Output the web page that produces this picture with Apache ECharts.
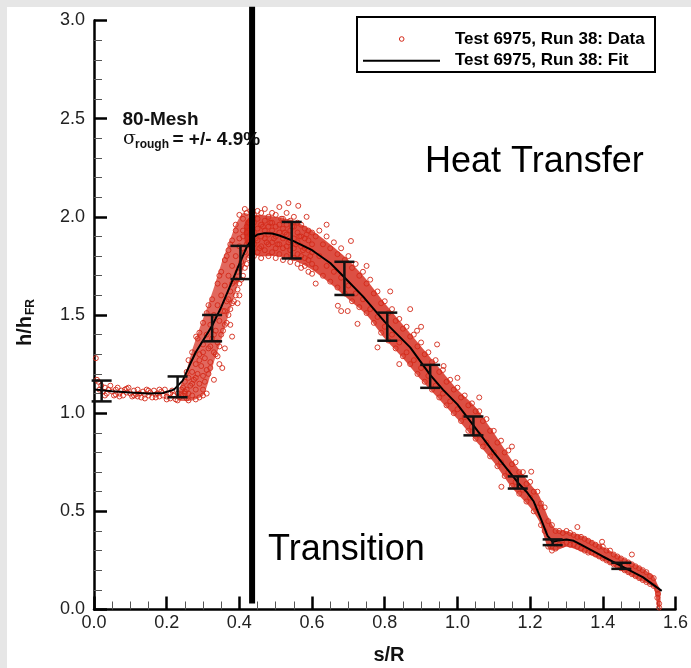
<!DOCTYPE html>
<html><head><meta charset="utf-8">
<script src="https://cdn.jsdelivr.net/npm/echarts@6/dist/echarts.min.js"></script>
<style>html,body{margin:0;padding:0;background:#e6e6e6;}#c{width:691px;height:668px;}</style>
</head><body><div id="c"></div>
<script>
// ---- tick labels ----
const xTicks = [0.0,0.2,0.4,0.6,0.8,1.0,1.2,1.4,1.6];
const yTicks = [0.0,0.5,1.0,1.5,2.0,2.5,3.0];
// ---- fit curve ----
const fitX = [0.00,0.05,0.10,0.15,0.19,0.22,0.244,0.262,0.28,0.30,0.325,0.35,0.375,0.40,0.42,0.435,0.45,0.47,0.49,0.51,0.545,0.60,0.65,0.69,0.74,0.80,0.87,0.925,0.96,1.00,1.045,1.10,1.166,1.19,1.21,1.23,1.248,1.262,1.28,1.30,1.32,1.34,1.40,1.45,1.51,1.562];
const fitY = [1.12,1.112,1.105,1.10,1.103,1.12,1.166,1.24,1.31,1.37,1.445,1.54,1.65,1.76,1.845,1.89,1.91,1.917,1.915,1.905,1.88,1.83,1.765,1.69,1.595,1.465,1.335,1.195,1.12,1.045,0.935,0.80,0.647,0.60,0.55,0.46,0.375,0.345,0.352,0.357,0.35,0.33,0.27,0.222,0.165,0.095];
// ---- error bars ----
const errX  = [0.021,0.23,0.325,0.403,0.544,0.689,0.807,0.925,1.044,1.166,1.262,1.451];
const errLo = [1.06,1.081,1.366,1.683,1.788,1.602,1.369,1.129,0.887,0.616,0.328,0.207];
const errHi = [1.166,1.187,1.50,1.852,1.974,1.771,1.512,1.246,0.983,0.678,0.357,0.238];
// ---- dense data band envelope (peak + decline) ----
const bandX  = [0.415,0.43,0.45,0.50,0.55,0.60,0.65,0.70,0.75,0.80,0.85,0.90,0.95,1.00,1.05,1.10,1.15,1.20,1.225,1.25,1.27,1.30,1.35,1.40,1.45,1.50,1.54,1.55,1.558];
const bandLo = [1.87,1.83,1.80,1.80,1.78,1.73,1.66,1.58,1.50,1.38,1.28,1.17,1.07,0.97,0.86,0.75,0.62,0.52,0.45,0.31,0.30,0.32,0.29,0.25,0.20,0.15,0.11,0.02,0.00];
const bandHi = [1.97,2.00,2.01,2.00,1.98,1.93,1.86,1.78,1.68,1.56,1.45,1.34,1.23,1.12,1.03,0.90,0.76,0.64,0.58,0.47,0.41,0.40,0.37,0.32,0.27,0.22,0.17,0.13,0.10];
// ---- rising data cloud outline (polygon vertices) ----
const riseX = [0.235,0.27,0.30,0.315,0.33,0.35,0.37,0.39,0.41,0.425,0.435,0.435,0.41,0.39,0.37,0.35,0.33,0.31,0.29,0.27,0.255,0.24,0.235];
const riseY = [1.065,1.065,1.09,1.16,1.26,1.37,1.50,1.62,1.73,1.80,1.84,2.00,2.02,1.96,1.86,1.76,1.64,1.53,1.43,1.32,1.22,1.15,1.12];
// ---- scatter data (x,y pairs) ----
const dataFlat = [0.005,1.28,0.008,1.17,0.012,1.16,0.015,1.12,0.02,1.14,0.025,1.11,0.03,1.13,0.03,1.09,0.035,1.10,0.04,1.12,0.045,1.14,0.05,1.11,0.055,1.09,0.06,1.12,0.06,1.095,0.065,1.13,0.07,1.10,0.075,1.115,0.08,1.09,0.085,1.12,0.09,1.105,0.09,1.125,0.095,1.13,0.10,1.10,0.105,1.085,0.11,1.115,0.115,1.095,0.12,1.12,0.12,1.085,0.125,1.10,0.13,1.08,0.135,1.11,0.14,1.095,0.145,1.12,0.15,1.09,0.15,1.115,0.155,1.105,0.16,1.08,0.165,1.115,0.17,1.095,0.175,1.10,0.18,1.085,0.18,1.12,0.185,1.11,0.19,1.09,0.195,1.12,0.20,1.085,0.205,1.10,0.21,1.075,0.21,1.10,0.215,1.115,0.22,1.09,0.225,1.07,0.23,1.10,0.235,1.08,0.24,1.12,0.24,1.095,0.245,1.09,0.25,1.11,0.255,1.075,0.07,1.085,0.11,1.09,0.14,1.075,0.17,1.08,0.2,1.07,0.23,1.065,0.26,1.065];
const dataRise = [0.245,1.13,0.25,1.16,0.255,1.12,0.26,1.18,0.26,1.10,0.265,1.14,0.27,1.21,0.27,1.09,0.275,1.17,0.28,1.25,0.28,1.12,0.285,1.20,0.29,1.30,0.29,1.15,0.295,1.24,0.30,1.35,0.30,1.19,0.305,1.28,0.31,1.40,0.31,1.10,0.315,1.33,0.32,1.45,0.32,1.26,0.325,1.38,0.33,1.50,0.33,1.31,0.335,1.42,0.34,1.55,0.34,1.36,0.345,1.47,0.35,1.60,0.35,1.40,0.355,1.52,0.36,1.65,0.36,1.45,0.365,1.57,0.37,1.70,0.37,1.50,0.375,1.62,0.38,1.75,0.38,1.56,0.385,1.67,0.39,1.80,0.39,1.60,0.395,1.72,0.40,1.85,0.40,1.66,0.405,1.77,0.41,1.90,0.41,1.70,0.415,1.82,0.42,1.95,0.42,1.76,0.425,1.87,0.43,1.98,0.43,1.80,0.435,1.92,0.353,1.23,0.33,1.17,0.375,1.45,0.38,1.39,0.281,1.39,0.29,1.27,0.31,1.22,0.32,1.34,0.34,1.29,0.36,1.52,0.38,1.66,0.40,1.74,0.42,1.86,0.30,1.31,0.27,1.15,0.28,1.18,0.25,1.10,0.33,1.40,0.37,1.58,0.39,1.68,0.41,1.84,0.43,1.91,0.39,1.96,0.40,2.01,0.41,1.99,0.415,2.04,0.42,2.02,0.425,1.97,0.43,2.03,0.42,1.92,0.41,1.93,0.40,1.89,0.30,1.12,0.305,1.16,0.315,1.20,0.32,1.23,0.335,1.30,0.345,1.34,0.355,1.42,0.365,1.46,0.375,1.53,0.385,1.57,0.395,1.63,0.405,1.68,0.415,1.74,0.425,1.79,0.30,1.09,0.29,1.08,0.28,1.07,0.395,1.56,0.36,1.33,0.345,1.25,0.40,1.60,0.26,1.27,0.27,1.31,0.285,1.38,0.30,1.46,0.31,1.51,0.325,1.58,0.34,1.66,0.35,1.72,0.36,1.78,0.37,1.83,0.38,1.88,0.39,1.93,0.255,1.21,0.29,1.41,0.315,1.55,0.345,1.70,0.365,1.80,0.375,1.86];
const dataPeak = [0.44,1.80,0.44,1.86,0.44,1.92,0.44,1.97,0.44,2.01,0.45,1.82,0.45,1.88,0.45,1.94,0.45,1.99,0.45,2.03,0.46,1.79,0.46,1.85,0.46,1.90,0.46,1.96,0.46,2.02,0.47,1.83,0.47,1.89,0.47,1.93,0.47,1.98,0.47,2.04,0.48,1.80,0.48,1.86,0.48,1.91,0.48,1.95,0.48,2.00,0.49,1.82,0.49,1.87,0.49,1.93,0.49,1.97,0.49,2.02,0.50,1.79,0.50,1.84,0.50,1.90,0.50,1.95,0.50,2.01,0.51,1.81,0.51,1.86,0.51,1.92,0.51,1.96,0.51,2.05,0.52,1.78,0.52,1.84,0.52,1.89,0.52,1.94,0.52,1.99,0.53,1.80,0.53,1.85,0.53,1.91,0.53,1.96,0.53,2.02,0.54,1.77,0.54,1.83,0.54,1.88,0.54,1.93,0.54,1.98,0.55,1.79,0.55,1.84,0.55,1.89,0.55,1.95,0.55,2.00,0.56,1.76,0.56,1.81,0.56,1.87,0.56,1.92,0.56,1.97,0.57,1.74,0.57,1.80,0.57,1.85,0.57,1.90,0.57,1.96,0.58,1.75,0.58,1.79,0.58,1.84,0.58,1.89,0.58,1.94,0.59,1.72,0.59,1.78,0.59,1.83,0.59,1.88,0.59,1.93,0.60,1.71,0.60,1.76,0.60,1.82,0.60,1.86,0.60,1.92,0.445,1.89,0.455,1.84,0.465,1.95,0.475,1.87,0.485,1.97,0.495,1.89,0.505,1.86,0.515,1.99,0.525,1.92,0.535,1.87,0.545,1.95,0.555,1.86,0.565,1.90,0.575,1.83,0.585,1.91,0.595,1.80];
const dataDecline = [0.61,1.74,0.61,1.90,0.62,1.80,0.62,1.93,0.63,1.70,0.63,1.86,0.64,1.75,0.64,1.90,0.65,1.67,0.65,1.84,0.66,1.72,0.66,1.87,0.67,1.64,0.67,1.81,0.68,1.69,0.68,1.84,0.69,1.61,0.69,1.78,0.70,1.65,0.70,1.80,0.71,1.57,0.71,1.74,0.72,1.61,0.72,1.76,0.73,1.54,0.73,1.70,0.74,1.58,0.74,1.72,0.75,1.51,0.75,1.66,0.76,1.53,0.76,1.68,0.77,1.46,0.77,1.61,0.78,1.49,0.78,1.62,0.79,1.41,0.79,1.56,0.80,1.44,0.80,1.57,0.81,1.37,0.81,1.51,0.82,1.40,0.82,1.53,0.83,1.33,0.83,1.47,0.84,1.36,0.84,1.48,0.85,1.29,0.85,1.43,0.86,1.31,0.86,1.44,0.87,1.25,0.87,1.39,0.88,1.27,0.88,1.40,0.89,1.20,0.89,1.34,0.90,1.23,0.90,1.36,0.91,1.16,0.91,1.30,0.92,1.19,0.92,1.31,0.93,1.12,0.93,1.26,0.94,1.14,0.94,1.27,0.95,1.08,0.95,1.21,0.96,1.10,0.96,1.22,0.97,1.04,0.97,1.16,0.98,1.06,0.98,1.17,0.99,1.00,0.99,1.12,1.00,1.02,1.00,1.13,1.01,0.96,1.01,1.08,1.02,0.98,1.02,1.09,1.03,0.91,1.03,1.04,1.04,0.93,1.04,1.05,1.05,0.87,1.05,1.01,1.06,0.89,1.06,1.01,1.07,0.83,1.07,0.96,1.08,0.85,1.08,0.97,1.09,0.78,1.09,0.91,1.10,0.80,1.10,0.91,1.11,0.73,1.11,0.85,1.12,0.75,1.12,0.86,1.13,0.68,1.13,0.80,1.14,0.70,1.14,0.81,1.15,0.63,1.15,0.74,1.16,0.65,1.16,0.75,1.17,0.59,1.17,0.70,1.18,0.61,1.18,0.70,1.19,0.55,1.19,0.64,1.20,0.57,1.20,0.65,1.21,0.50,1.21,0.60,1.22,0.52,1.22,0.60,1.23,0.43,1.23,0.54,1.24,0.40,1.24,0.52,1.25,0.32,1.25,0.45,1.26,0.30,1.26,0.43,1.27,0.31,1.27,0.40,1.28,0.33,1.28,0.40,1.29,0.33,1.29,0.39,1.30,0.34,1.30,0.40,1.31,0.33,1.31,0.39,1.32,0.33,1.32,0.38,1.33,0.32,1.33,0.37,1.34,0.31,1.34,0.37,1.35,0.30,1.35,0.36,1.36,0.29,1.36,0.35,1.37,0.29,1.37,0.34,1.38,0.28,1.38,0.33,1.39,0.27,1.39,0.32,1.40,0.26,1.40,0.32,1.41,0.25,1.41,0.30,1.42,0.24,1.42,0.30,1.43,0.23,1.43,0.28,1.44,0.22,1.44,0.27,1.45,0.21,1.45,0.26,1.46,0.20,1.46,0.25,1.47,0.19,1.47,0.24,1.48,0.18,1.48,0.23,1.49,0.17,1.49,0.22,1.50,0.16,1.50,0.21,1.51,0.15,1.51,0.20,1.52,0.14,1.52,0.19,1.53,0.13,1.53,0.17,1.54,0.12,1.54,0.16,1.55,0.10,1.55,0.06,1.555,0.03,1.555,0.01,1.552,0.08];
const dataOutliers = [0.535,2.07,0.562,2.056,0.707,1.877,0.68,1.52,0.698,1.52,0.78,1.335,0.815,1.62,0.87,1.53,0.889,1.42,0.944,1.35,0.962,1.24,0.725,1.455,0.671,1.547,1.121,0.625,1.203,0.702,1.398,0.345,0.64,1.96,0.75,1.75,0.90,1.44,1.00,1.18,1.06,1.08,1.15,0.83,0.585,2.00,0.61,1.66,0.84,1.25,1.33,0.42,1.48,0.28];
// ---- transition line ----
const transX = [0.435,0.435];
const transY = [0.03,3.07];

const FONT = '"Liberation Sans", Arial, Helvetica, sans-serif';
function pairs(a){const o=[];for(let i=0;i<a.length;i+=2)o.push([a[i],a[i+1]]);return o;}
const scatterData = [].concat(pairs(dataFlat),pairs(dataRise),pairs(dataPeak),pairs(dataDecline),pairs(dataOutliers));
const fitData = fitX.map((x,i)=>[x,fitY[i]]);
const errData = errX.map((x,i)=>[x,errLo[i],errHi[i]]);
const transData = transX.map((x,i)=>[x,transY[i]]);
const RED = '#d42a1a';

const chart = echarts.init(document.getElementById('c'), null, {renderer:'canvas'});
const axisCommon = {
  axisLine:{show:true,onZero:false,lineStyle:{color:'#000',width:2.5}},
  axisTick:{show:true,inside:true,length:13,lineStyle:{color:'#000',width:2.5}},
  splitLine:{show:false}, minorSplitLine:{show:false}
};
chart.setOption({
  backgroundColor:'#e6e6e6',
  animation:false,
  grid:{left:94,right:10.3,top:20.5,bottom:58.5,containLabel:false},
  xAxis:Object.assign({type:'value',min:xTicks[0],max:xTicks[xTicks.length-1],interval:0.2,
    axisLabel:{fontSize:18,color:'#222',fontFamily:FONT,margin:5,formatter:v=>v.toFixed(1)}},axisCommon,
    {minorTick:{show:true,splitNumber:4,length:8,lineStyle:{color:'#555',width:1}}}),
  yAxis:Object.assign({type:'value',min:yTicks[0],max:yTicks[yTicks.length-1],interval:0.5,
    axisLabel:{fontSize:18,color:'#222',fontFamily:FONT,margin:9,formatter:v=>v.toFixed(1)}},axisCommon,
    {minorTick:{show:true,splitNumber:5,length:8,lineStyle:{color:'#555',width:1}}}),
  graphic:[
    {type:'rect',z:-100,silent:true,shape:{x:7,y:7,width:684,height:661},style:{fill:'#fff'}},
    {type:'rect',z:100,shape:{x:357,y:17,width:298,height:55},style:{fill:'#fff',stroke:'#000',lineWidth:2}},
    {type:'circle',z:101,shape:{cx:401.7,cy:39,r:2.3},style:{fill:'none',stroke:RED,lineWidth:1}},
    {type:'line',z:101,shape:{x1:363,y1:60.7,x2:440,y2:60.7},style:{stroke:'#000',lineWidth:2}},
    {type:'text',z:101,x:455,y:39,style:{text:'Test 6975, Run 38: Data',font:'bold 17px '+FONT,fill:'#000',verticalAlign:'middle'}},
    {type:'text',z:101,x:455,y:60.5,style:{text:'Test 6975, Run 38: Fit',font:'bold 17px '+FONT,fill:'#000',verticalAlign:'middle'}},
    {type:'text',z:101,x:122.5,y:119.5,style:{text:'80-Mesh',font:'bold 19px '+FONT,fill:'#111',verticalAlign:'middle'}},
    {type:'text',z:101,x:123,y:139,style:{text:'σ',font:'19px "DejaVu Serif", serif',fill:'#111',verticalAlign:'middle'}},
    {type:'text',z:101,x:135,y:145,style:{text:'rough',font:'bold 12px '+FONT,fill:'#111',verticalAlign:'middle'}},
    {type:'text',z:101,x:172.5,y:140,style:{text:'= +/- 4.9%',font:'bold 19px '+FONT,fill:'#111',verticalAlign:'middle'}},
    {type:'text',z:101,x:425,y:162,style:{text:'Heat Transfer',font:'36px '+FONT,fill:'#000',verticalAlign:'middle'}},
    {type:'text',z:101,x:268,y:550,style:{text:'Transition',font:'36px '+FONT,fill:'#000',verticalAlign:'middle'}},
    {type:'text',z:101,x:389,y:655,style:{text:'s/R',font:'bold 20px '+FONT,fill:'#111',align:'center',verticalAlign:'middle'}},
    {type:'group',z:101,x:25,y:346,rotation:Math.PI/2,children:[
      {type:'text',x:0,y:0,style:{text:'h/h',font:'bold 20px '+FONT,fill:'#111',verticalAlign:'middle'}},
      {type:'text',x:31,y:6,style:{text:'FR',font:'bold 12px '+FONT,fill:'#111',verticalAlign:'middle'}}
    ]}
  ],
  series:[
    {type:'custom',z:1,silent:true,data:[0],
      renderItem:function(params,api){
        const pts=[];
        for(let i=0;i<bandX.length;i++)pts.push(api.coord([bandX[i],bandHi[i]]));
        for(let i=bandX.length-1;i>=0;i--)pts.push(api.coord([bandX[i],bandLo[i]]));
        const rp=riseX.map((x,i)=>api.coord([x,riseY[i]]));
        return {type:'group',children:[
          {type:'polygon',shape:{points:pts,smooth:0.2},style:{fill:'rgba(212,40,26,0.82)'}},
          {type:'polygon',shape:{points:rp,smooth:0.2},style:{fill:'rgba(212,40,26,0.7)'}}
        ]};
      }},
    {type:'scatter',z:2,silent:true,data:scatterData,symbol:'circle',symbolSize:5,
      itemStyle:{color:'rgba(0,0,0,0)',borderColor:RED,borderWidth:1,opacity:0.9}},
    {type:'line',z:3,silent:true,data:fitData,showSymbol:false,symbol:'none',
      lineStyle:{color:'#000',width:2}},
    {type:'custom',z:4,silent:true,data:errData,
      renderItem:function(params,api){
        const x=api.value(0),lo=api.value(1),hi=api.value(2);
        const a=api.coord([x,lo]),b=api.coord([x,hi]);const w=10;
        const st={stroke:'#111',lineWidth:2.5};
        return {type:'group',children:[
          {type:'line',shape:{x1:a[0],y1:a[1],x2:b[0],y2:b[1]},style:st},
          {type:'line',shape:{x1:a[0]-w,y1:a[1],x2:a[0]+w,y2:a[1]},style:st},
          {type:'line',shape:{x1:b[0]-w,y1:b[1],x2:b[0]+w,y2:b[1]},style:st}
        ]};
      }},
    {type:'line',z:5,silent:true,clip:false,data:transData,showSymbol:false,symbol:'none',
      lineStyle:{color:'#000',width:6}}
  ]
});
</script></body></html>
